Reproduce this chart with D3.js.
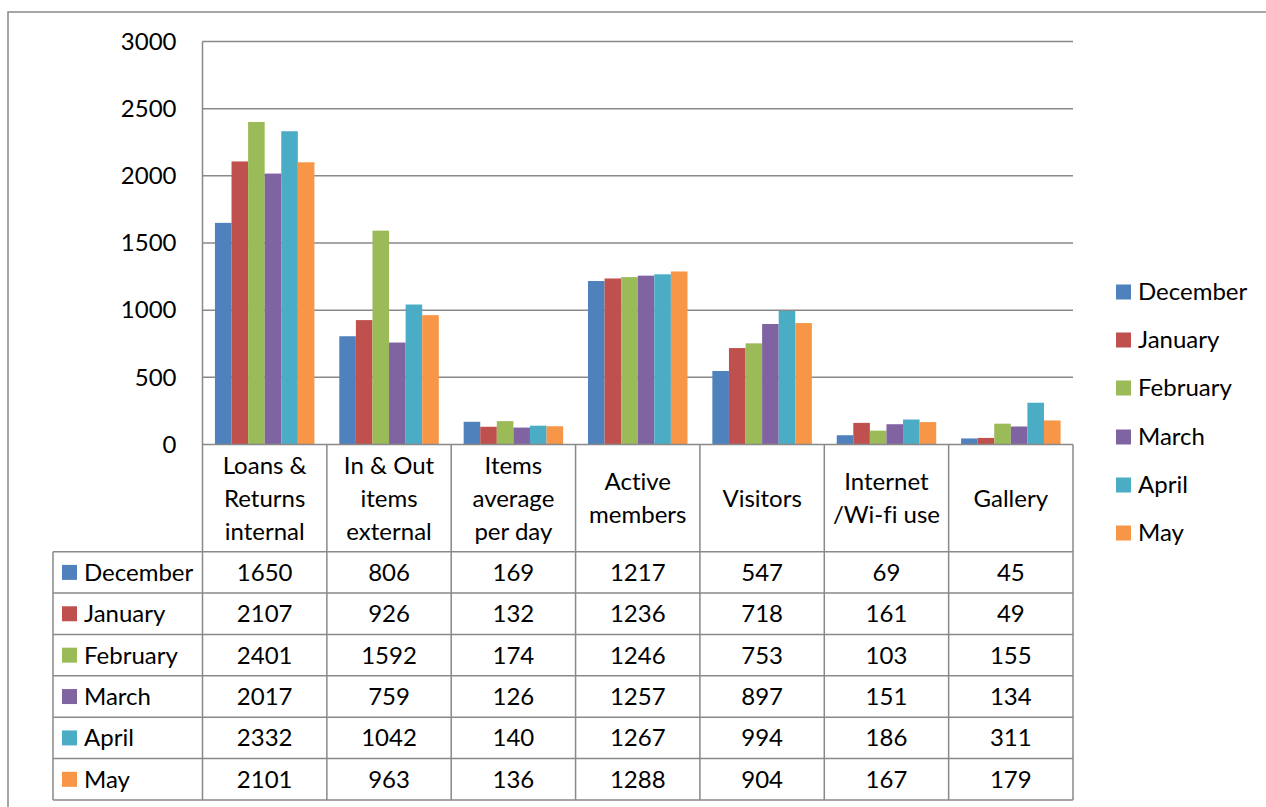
<!DOCTYPE html>
<html>
<head>
<meta charset="utf-8">
<script src="https://cdn.jsdelivr.net/npm/d3@7"></script>
<style>
  body { margin: 0; background: #fff; }
  text { font-family: Lato, "Open Sans", sans-serif; fill: #000; font-variant-ligatures: none; }
</style>
</head>
<body>
<div id="chart"></div>
<script>
// chart data
const categories = [
    ["Loans &", "Returns", "internal"],
    ["In & Out", "items", "external"],
    ["Items", "average", "per day"],
    ["Active", "members"],
    ["Visitors"],
    ["Internet", "/Wi-fi use"],
    ["Gallery"]
];
const months = ["December", "January", "February", "March", "April", "May"];
const colors = ["#4F81BD", "#C0504D", "#9BBB59", "#8064A2", "#4BACC6", "#F79646"];
const december = [1650, 806, 169, 1217, 547, 69, 45];
const january = [2107, 926, 132, 1236, 718, 161, 49];
const february = [2401, 1592, 174, 1246, 753, 103, 155];
const march = [2017, 759, 126, 1257, 897, 151, 134];
const april = [2332, 1042, 140, 1267, 994, 186, 311];
const may = [2101, 963, 136, 1288, 904, 167, 179];
const yTicks = [0, 500, 1000, 1500, 2000, 2500, 3000];

const series = [december, january, february, march, april, may];

const width = 1266, height = 807;
const gridColor = "#898989";

const svg = d3.select("#chart")
    .append("svg")
    .attr("width", width)
    .attr("height", height);

// outer chart border (runs off the right and bottom edges)
svg.append("rect")
    .attr("x", 8).attr("y", 12)
    .attr("width", 1400).attr("height", 1000)
    .attr("fill", "none")
    .attr("stroke", gridColor)
    .attr("stroke-width", 1.5);

const plotLeft = 202.5, plotRight = 1073;
const x = d3.scaleBand()
    .domain(d3.range(categories.length))
    .range([plotLeft, plotRight])
    .paddingInner(0.2)
    .paddingOuter(0.1);

const x1 = d3.scaleBand()
    .domain(d3.range(months.length))
    .range([0, x.bandwidth()]);

const y = d3.scaleLinear()
    .domain([0, 3000])
    .range([444.5, 41.5]);

// gridlines
svg.append("g")
    .selectAll("line")
    .data(yTicks.filter(d => d > 0))
    .join("line")
      .attr("x1", plotLeft).attr("x2", plotRight)
      .attr("y1", d => y(d)).attr("y2", d => y(d))
      .attr("stroke", gridColor)
      .attr("stroke-width", 1.5);

// y axis labels
const yAxis = d3.axisLeft(y)
    .tickValues(yTicks)
    .tickFormat(d3.format("d"))
    .tickSize(0)
    .tickPadding(26);
svg.append("g")
    .attr("transform", `translate(${plotLeft}, 0)`)
    .call(yAxis)
    .call(g => g.select(".domain").remove())
    .selectAll("text")
      .attr("font-size", "24px")
      .attr("font-family", "Lato, 'Open Sans', sans-serif")
      .attr("fill", "#000");

// bars
svg.append("g")
    .selectAll("g")
    .data(series)
    .join("g")
      .attr("fill", (d, i) => colors[i])
      .attr("transform", (d, i) => `translate(${x1(i)}, 0)`)
    .selectAll("rect")
    .data(d => d)
    .join("rect")
      .attr("x", (d, i) => x(i))
      .attr("y", d => y(d))
      .attr("width", x1.bandwidth())
      .attr("height", d => y(0) - y(d));

// data table
const step = x.step();
const headTop = y(0), headBottom = 551.7, tableBottom = 800;
const rowH = (tableBottom - headBottom) / months.length;
const tableLeft = 53;

const table = svg.append("g")
    .attr("stroke", gridColor)
    .attr("stroke-width", 1.5);

// vertical lines
d3.range(categories.length + 1).forEach(k => {
    table.append("line")
        .attr("x1", plotLeft + k * step).attr("x2", plotLeft + k * step)
        .attr("y1", k === 0 ? y(3000) : headTop).attr("y2", tableBottom);
});
table.append("line")
    .attr("x1", tableLeft).attr("x2", tableLeft)
    .attr("y1", headBottom).attr("y2", tableBottom);

// horizontal lines
table.append("line")
    .attr("x1", plotLeft).attr("x2", plotRight)
    .attr("y1", headTop).attr("y2", headTop);
d3.range(months.length + 1).forEach(r => {
    table.append("line")
        .attr("x1", tableLeft).attr("x2", plotRight)
        .attr("y1", headBottom + r * rowH).attr("y2", headBottom + r * rowH);
});

// header category labels
const headMid = (headTop + headBottom) / 2;
categories.forEach((lines, i) => {
    const t = svg.append("text")
        .attr("text-anchor", "middle")
        .attr("font-size", "24px");
    lines.forEach((ln, j) => {
        t.append("tspan")
            .attr("x", plotLeft + (i + 0.5) * step)
            .attr("y", headMid + (j - (lines.length - 1) / 2) * 33)
            .attr("dy", "0.35em")
            .text(ln);
    });
});

// table rows
months.forEach((m, r) => {
    const cy = headBottom + (r + 0.5) * rowH;
    svg.append("rect")
        .attr("x", 62).attr("y", cy - 7.5)
        .attr("width", 15).attr("height", 15)
        .attr("fill", colors[r]);
    svg.append("text")
        .attr("x", 84).attr("y", cy).attr("dy", "0.35em")
        .attr("font-size", "24px")
        .text(m);
    series[r].forEach((v, i) => {
        svg.append("text")
            .attr("x", plotLeft + (i + 0.5) * step)
            .attr("y", cy).attr("dy", "0.35em")
            .attr("text-anchor", "middle")
            .attr("font-size", "24px")
            .text(v);
    });
});

// legend
const legendY = [292, 340, 388, 437, 485, 533];
const legend = svg.append("g")
    .selectAll("g")
    .data(months)
    .join("g")
      .attr("transform", (d, i) => `translate(1116, ${legendY[i]})`);
legend.append("rect")
    .attr("y", -7.5)
    .attr("width", 15).attr("height", 15)
    .attr("fill", (d, i) => colors[i]);
legend.append("text")
    .attr("x", 22).attr("dy", "0.35em")
    .attr("font-size", "24px")
    .text(d => d);
</script>
</body>
</html>
